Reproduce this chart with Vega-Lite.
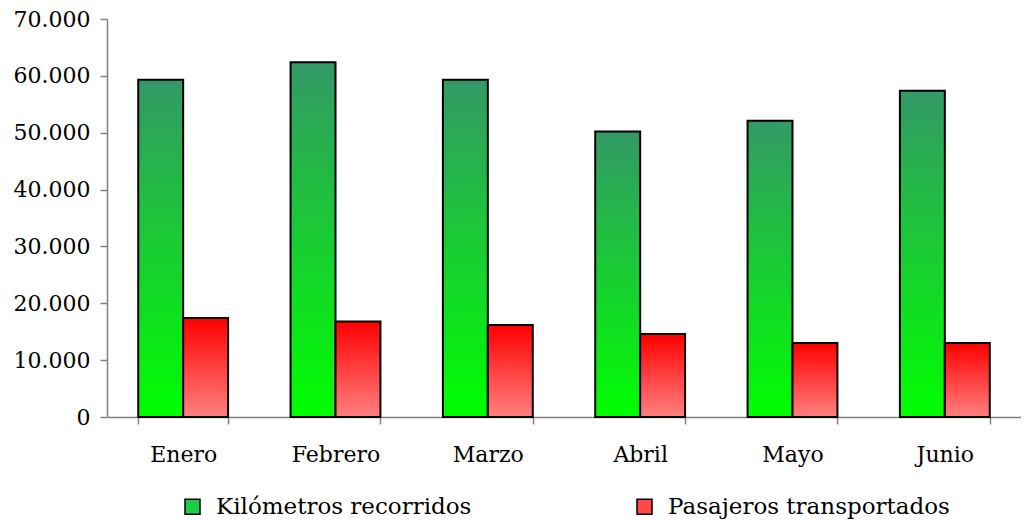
{
  "$schema": "https://vega.github.io/schema/vega-lite/v6.json",
  "width": 914,
  "height": 398,
  "padding": {"left": 13, "right": 0, "top": 8, "bottom": 0},
  "background": "white",
  "config": {
    "view": {"stroke": null},
    "font": "DejaVu Serif",
    "axis": {"labelFont": "DejaVu Serif", "labelFontSize": 22, "labelColor": "black", "grid": false, "domainColor": "#808080", "tickColor": "#808080", "title": null},
    "legend": {"labelFont": "DejaVu Serif", "labelFontSize": 23, "labelColor": "black"}
  },
  "data": {
    "values": [
      {"mes": "Enero", "serie": "Kilómetros recorridos", "valor": 59300},
      {"mes": "Enero", "serie": "Pasajeros transportados", "valor": 17400},
      {"mes": "Febrero", "serie": "Kilómetros recorridos", "valor": 62400},
      {"mes": "Febrero", "serie": "Pasajeros transportados", "valor": 16800},
      {"mes": "Marzo", "serie": "Kilómetros recorridos", "valor": 59300},
      {"mes": "Marzo", "serie": "Pasajeros transportados", "valor": 16200},
      {"mes": "Abril", "serie": "Kilómetros recorridos", "valor": 50200},
      {"mes": "Abril", "serie": "Pasajeros transportados", "valor": 14600},
      {"mes": "Mayo", "serie": "Kilómetros recorridos", "valor": 52100},
      {"mes": "Mayo", "serie": "Pasajeros transportados", "valor": 13000},
      {"mes": "Junio", "serie": "Kilómetros recorridos", "valor": 57400},
      {"mes": "Junio", "serie": "Pasajeros transportados", "valor": 13000}
    ]
  },
  "encoding": {
    "x": {
      "field": "mes", "type": "nominal", "sort": null,
      "scale": {"paddingInner": 0.41, "paddingOuter": 0.205},
      "axis": {"labelAngle": 0, "tickBand": "extent", "tickSize": 7, "labelPadding": 20, "domainWidth": 1.5, "tickWidth": 1.5}
    },
    "xOffset": {"field": "serie", "type": "nominal", "scale": {"padding": 0}},
    "y": {
      "field": "valor", "type": "quantitative",
      "scale": {"domain": [0, 70000], "nice": false},
      "axis": {"values": [0, 10000, 20000, 30000, 40000, 50000, 60000, 70000], "labelExpr": "replace(format(datum.value, ','), ',', '.')", "tickSize": 7, "labelPadding": 10, "domainWidth": 1.5, "tickWidth": 1.5}
    }
  },
  "layer": [
    {
      "mark": {"type": "bar", "opacity": 0},
      "encoding": {
        "fill": {
          "field": "serie", "type": "nominal",
          "scale": {"domain": ["Kilómetros recorridos", "Pasajeros transportados"], "range": ["#1fcc4a", "#ff4848"]},
          "legend": {"orient": "none", "legendX": 74, "legendY": 476, "padding": 0, "direction": "horizontal", "title": null, "symbolType": "square", "symbolSize": 225, "symbolOpacity": 1, "symbolStrokeColor": "black", "symbolStrokeWidth": 1.5, "columnPadding": 161, "labelOffset": 12, "labelLimit": 500}
        }
      }
    },
    {
      "mark": {"type": "bar", "stroke": "black", "strokeWidth": 2},
      "encoding": {
        "fill": {
          "condition": {
            "test": "datum.serie === 'Kilómetros recorridos'",
            "value": {"gradient": "linear", "x1": 0, "y1": 0, "x2": 0, "y2": 1, "stops": [{"offset": 0, "color": "#339966"}, {"offset": 1, "color": "#00ff00"}]}
          },
          "value": {"gradient": "linear", "x1": 0, "y1": 0, "x2": 0, "y2": 1, "stops": [{"offset": 0, "color": "#ff0000"}, {"offset": 1, "color": "#ff8080"}]}
        }
      }
    }
  ]
}
